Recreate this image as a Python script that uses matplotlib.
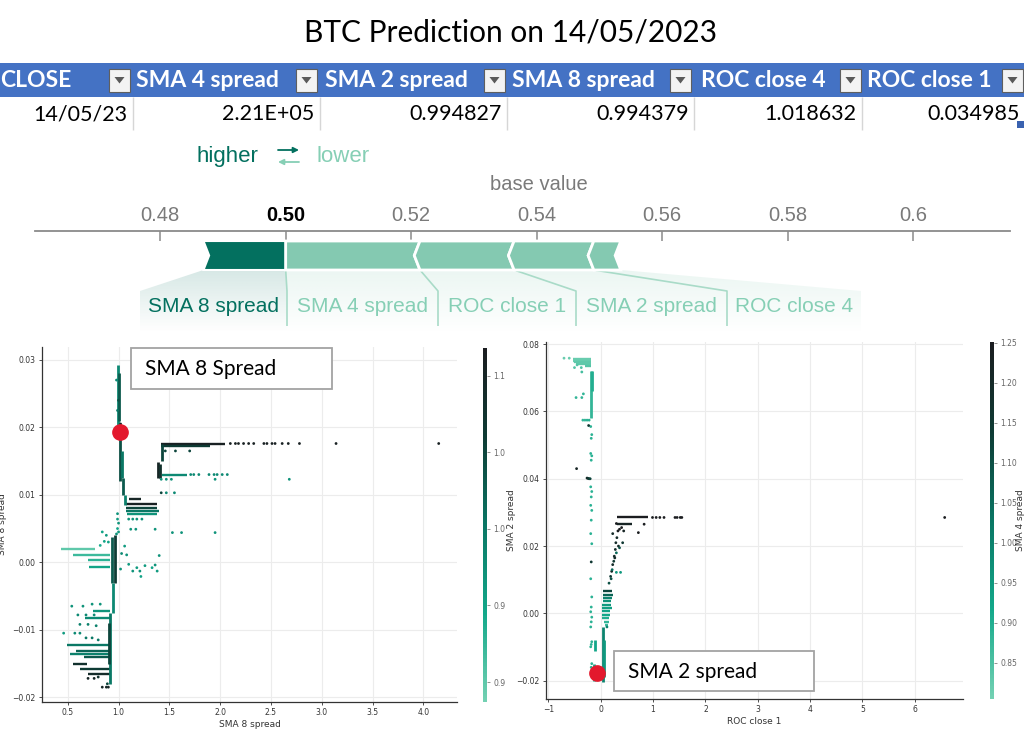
import numpy as np
import matplotlib
matplotlib.use("Agg")
import matplotlib.pyplot as plt
from matplotlib.colors import LinearSegmentedColormap, Normalize, to_rgb
from matplotlib.patches import Rectangle, Polygon
from matplotlib.cm import ScalarMappable
from matplotlib.transforms import Bbox, TransformedBbox

W, H = 1024, 729

# ---------------- data ----------------
title = "BTC Prediction on 14/05/2023"
table_cols = ["CLOSE", "SMA 4 spread", "SMA 2 spread", "SMA 8 spread", "ROC close 4", "ROC close 1"]
table_vals = ["14/05/23", "2.21E+05", "0.994827", "0.994379", "1.018632", "0.034985"]

force_output = 0.50
force_features = ["SMA 8 spread", "SMA 4 spread", "ROC close 1", "SMA 2 spread", "ROC close 4"]
force_effects = [0.0131, -0.0214, -0.0150, -0.0127, -0.0043]
force_ticks = [0.48, 0.50, 0.52, 0.54, 0.56, 0.58, 0.60]
force_ticklabels = ["0.48", "0.50", "0.52", "0.54", "0.56", "0.58", "0.6"]

# left dependence plot: SMA 8 spread (colour = SMA 2 spread)
sma8_hrun_y = [0.0176, 0.0172, 0.0130, 0.0094, 0.0086, 0.0081, 0.0076, 0.0071, 0.0019, 0.0011,
               0.0003, -0.0007, -0.0072, -0.0083, -0.0122, -0.0131, -0.0136, -0.0140, -0.0150,
               -0.0158, -0.0165]
sma8_hrun_x0 = [1.42, 1.42, 1.43, 1.10, 1.07, 1.07, 1.07, 1.08, 0.43, 0.55, 0.70, 0.71, 0.75, 0.67,
                0.49, 0.58, 0.52, 0.66, 0.55, 0.62, 0.70]
sma8_hrun_x1 = [2.05, 1.90, 1.67, 1.22, 1.38, 1.38, 1.40, 1.38, 0.77, 0.92, 0.92, 0.92, 0.92, 0.93,
                0.92, 0.92, 0.92, 0.92, 0.69, 0.92, 0.92]
sma8_hrun_c = [1.11, 1.06, 0.98, 1.10, 1.11, 1.05, 1.00, 0.97, 0.90, 0.92, 0.93, 0.95, 0.97, 0.98,
               1.00, 1.02, 0.99, 1.03, 1.08, 1.06, 1.09]

sma8_vrun_x = [0.995, 1.005, 1.015, 1.03, 1.045, 1.06, 0.94, 0.97, 0.95, 0.915, 0.905, 1.39, 1.41, 1.43]
sma8_vrun_y0 = [0.0200, 0.0210, 0.0120, 0.0125, 0.0100, 0.0085, -0.0031, -0.0031, -0.0075, -0.0180,
                -0.0150, 0.0125, 0.0125, 0.0150]
sma8_vrun_y1 = [0.0293, 0.0280, 0.0192, 0.0165, 0.0125, 0.0100, 0.0038, 0.0040, -0.0031, -0.0075,
                -0.0090, 0.0148, 0.0145, 0.0176]
sma8_vrun_c = [0.98, 1.03, 1.04, 1.00, 1.03, 0.99, 1.03, 1.06, 0.98, 1.00, 1.05, 1.10, 1.08, 1.05]

sma8_pt_x = [2.10, 2.15, 2.18, 2.23, 2.28, 2.33, 2.43, 2.46, 2.51, 2.54, 2.61, 2.67, 2.78, 3.14, 4.15,
             1.46, 1.56, 1.70,
             1.71, 1.74, 1.79, 1.89, 1.94, 1.97, 2.02, 2.07,
             1.42, 1.47, 1.52, 1.95, 2.68,
             1.42, 1.47, 1.55,
             1.10, 1.14, 1.18, 1.23,
             1.12, 1.17, 1.36,
             1.53, 1.62, 1.95,
             1.06, 1.08, 1.10, 1.14, 1.18, 1.21, 1.22, 1.26, 1.33, 1.36, 1.38, 1.40, 1.03, 1.02,
             0.99, 0.99, 1.00, 0.99, 1.00, 0.98,
             0.84, 0.88, 0.90, 0.82, 0.86,
             0.54, 0.65, 0.74, 0.82, 0.60, 0.68, 0.76, 0.62, 0.70, 0.78, 0.46, 0.57, 0.62, 0.68,
             0.74, 0.80,
             0.70, 0.76, 0.80, 0.89, 0.84, 0.88, 0.90,
             0.98, 1.00, 0.99, 1.02]
sma8_pt_y = [0.0176] * 15 + \
            [0.0165] * 3 + \
            [0.0130] * 8 + \
            [0.0123] * 5 + \
            [0.0103] * 3 + \
            [0.0064] * 4 + \
            [0.0049] * 3 + \
            [0.0044] * 3 + \
            [0.0024, 0.0011, -0.0003, -0.0013, -0.0008, -0.0013, -0.0021, -0.0005, -0.0008, -0.0004,
             -0.0013, 0.0010, 0.0013, -0.0010] + \
            [0.0072, 0.0064, 0.0058, 0.0050, 0.0045, 0.0042] + \
            [0.0045, 0.0040, 0.0030, 0.0025, 0.0031] + \
            [-0.0065, -0.0065, -0.0062, -0.0062, -0.0078, -0.0078, -0.0078, -0.0092, -0.0092,
             -0.0094, -0.0105, -0.0105, -0.0105, -0.0112, -0.0112, -0.0115] + \
            [-0.0172, -0.0172, -0.0170, -0.0180, -0.0185, -0.0185, -0.0185] + \
            [0.0270, 0.0240, 0.0225, 0.0205]
sma8_pt_c = [1.11] * 15 + [1.05] * 3 + [0.98] * 8 + [0.97] * 5 + [1.05, 0.98, 0.98] + \
            [0.97] * 4 + [0.97] * 3 + [0.97] * 3 + \
            [0.96, 0.97, 0.96, 0.97, 0.96, 0.97, 0.95, 0.96, 0.95, 0.97, 0.96, 0.97, 0.98, 0.97] + \
            [0.97, 0.96, 0.97, 0.95, 0.96, 0.97] + \
            [0.95, 0.96, 0.95, 0.94, 0.95] + \
            [0.97, 0.97, 0.97, 0.97, 0.98, 0.98, 0.98, 0.99, 0.99, 0.99, 0.96, 0.98, 0.98, 1.00,
             1.00, 1.00] + \
            [1.10, 1.10, 1.08, 1.05, 1.10, 1.10, 1.10] + \
            [0.98, 1.04, 1.00, 1.10]
sma8_now = (1.01, 0.0193)

# right dependence plot: ROC close 1 vs SMA 2 spread SHAP (colour = SMA 4 spread)
roc_hrun_y = [0.0756, 0.0751, 0.0746, 0.0741, 0.0736, 0.0285, 0.0265, 0.0066, 0.0056, 0.0046,
              0.0036, 0.0026, 0.0016, 0.0006, -0.0004, -0.0014, -0.0024, -0.0034, -0.0185,
              -0.0195, -0.0172]
roc_hrun_x0 = [-0.52, -0.52, -0.50, -0.48, -0.30, 0.31, 0.31, 0.04, 0.04, 0.04, 0.04, 0.03, 0.03,
               0.03, 0.03, 0.03, 0.06, 0.08, -0.18, -0.12, -0.17]
roc_hrun_x1 = [-0.19, -0.19, -0.19, -0.19, -0.19, 0.91, 0.59, 0.22, 0.24, 0.22, 0.20, 0.20, 0.22,
               0.18, 0.18, 0.15, 0.15, 0.14, 0.05, 0.05, -0.10]
roc_hrun_c = [0.82, 0.82, 0.83, 0.83, 0.84, 1.25, 1.22, 1.12, 1.06, 1.00, 0.97, 0.95, 0.94, 0.93,
              0.92, 0.90, 0.88, 0.87, 0.90, 0.92, 0.93]

roc_vrun_x = [-0.18, -0.17, 0.04, 0.06, -0.12, -0.10]
roc_vrun_y0 = [0.0580, 0.0660, -0.0205, -0.0190, -0.0200, -0.0110]
roc_vrun_y1 = [0.0720, 0.0720, -0.0040, -0.0080, -0.0150, -0.0080]
roc_vrun_c = [0.88, 0.90, 1.00, 0.95, 0.93, 0.92]

roc_pt_x = [-0.19, -0.17, -0.18, -0.19, -0.17, -0.18, -0.19, -0.17, -0.18, -0.19, -0.17, -0.18,
            -0.19, -0.17, -0.18, -0.19, -0.17, -0.18, -0.19, -0.17, -0.18, -0.19, -0.17, -0.18,
            -0.19, -0.17, -0.18,
            -0.70, -0.60, -0.50, -0.45, -0.37, -0.36, -0.47, -0.36, -0.33, -0.34, -0.30, -0.26,
            -0.22, -0.23,
            -0.46, -0.26, -0.24, -0.22, -0.20,
            0.12, 0.16, 0.19, 0.21, 0.23, 0.25, 0.26, 0.28, 0.29, 0.31, 0.33, 0.36, 0.40, 0.44,
            0.42, 0.34, 0.30, 0.36, 0.30, 0.38, 0.27, 0.72, 0.83, 0.30, 0.23, 0.20, 0.22,
            0.99, 1.06, 1.13, 1.21, 1.42, 1.46, 1.52, 1.55, 6.57]
roc_pt_y = [0.0555, 0.0531, 0.0520, 0.0475, 0.0468, 0.0455, 0.0376, 0.0362, 0.0346, 0.0321, 0.0306,
            0.0277, 0.0237, 0.0207, 0.0153, 0.0103, 0.0049, 0.0019, 0.0005, -0.0011, -0.0025,
            -0.0040, -0.0084, -0.0092, -0.0099, -0.0149, -0.0160,
            0.0758, 0.0758, 0.0730, 0.0738, 0.0730, 0.0717, 0.0641, 0.0641, 0.0652, 0.0574,
            0.0574, 0.0574, 0.0574, 0.0558,
            0.0430, 0.0402, 0.0401, 0.0400, 0.0400,
            -0.0040, 0.0090, 0.0110, 0.0125, 0.0145, 0.0155, 0.0170, 0.0190, 0.0210, 0.0225,
            0.0245, 0.0250, 0.0255, 0.0245, 0.0210, 0.0200, 0.0180, 0.0195, 0.0122, 0.0122,
            0.0165, 0.0240, 0.0265, 0.0267, 0.0237, 0.0103, 0.0130] + [0.0285] * 9
roc_pt_c = [0.89] * 14 + [1.15] + [0.89] * 12 + \
           [0.82, 0.82, 0.84, 0.84, 0.85, 0.86, 0.88, 0.88, 0.88, 0.88, 0.88, 0.89, 0.89, 1.15] + \
           [1.22, 1.20, 1.18, 1.15, 1.12] + \
           [1.00, 1.10, 1.15, 1.20, 1.20, 1.15, 1.20, 1.20, 1.20, 1.20, 1.25, 1.25, 1.25, 1.22,
            1.15, 1.20, 1.05, 1.10, 0.95, 0.95, 1.20, 1.25, 1.25, 1.25, 1.20, 1.10, 1.05] + \
           [1.25] * 9
roc_now = (-0.065, -0.0178)

# ---------------- styling ----------------
dark_green = "#03705f"
light_green = "#84c9b1"
light_text = "#86cfb5"
cmap = LinearSegmentedColormap.from_list(
    "shap_teal", ["#74d1b3", "#13a88a", "#0a7664", "#0e3b34", "#1b1d20"])


def px_box(x0, y0, x1, y1):
    return [x0 / W, 1 - y1 / H, (x1 - x0) / W, (y1 - y0) / H]


fig = plt.figure(figsize=(W / 100, H / 100), dpi=100)
fig.patch.set_facecolor("white")

bg = fig.add_axes([0, 0, 1, 1])
bg.set_xlim(0, W)
bg.set_ylim(H, 0)
bg.axis("off")

# title
bg.text(510, 32, title, ha="center", va="center", fontsize=21.5, family="Lato")

# excel-like table
col_text_x = [0, 136, 325, 512, 701, 867]
box_x = [109, 296, 484, 670, 840, 1002]
sep_x = [133, 320, 507, 694, 862]
val_right = [127, 314, 502, 689, 856, 1020]
bg.add_patch(Rectangle((0, 63), W, 34, facecolor="#4472c4", edgecolor="none"))
for name, tx, bx in zip(table_cols, col_text_x, box_x):
    bg.text(tx, 80.5, name, ha="left", va="center", fontsize=16.5, fontweight="bold",
            color="white", family="Lato")
    bg.add_patch(Rectangle((bx, 68.5), 21, 23, facecolor="#f3f3f3", edgecolor="#5f5f5f", lw=0.8))
    bg.add_patch(Polygon([(bx + 5.5, 77), (bx + 15.5, 77), (bx + 10.5, 83.5)],
                         facecolor="#5a5a5a", edgecolor="none"))
bg.vlines(sep_x, 97, 130, color="#d6d6d6", lw=1)
for v, rx in zip(table_vals, val_right):
    bg.text(rx, 114, v, ha="right", va="center", fontsize=15.5, family="Lato")
bg.add_patch(Rectangle((1017, 121), 7, 7, facecolor="#3a62b0", edgecolor="none"))

# ---------------- force plot ----------------
fa = fig.add_axes(px_box(35, 231, 1010, 335))
fa.patch.set_alpha(0)
xl0, xl1 = 0.46005, 0.61543
for s in ["left", "right", "bottom"]:
    fa.spines[s].set_visible(False)
fa.spines["top"].set_color("#8a8a8a")
fa.spines["top"].set_linewidth(1.3)
fa.xaxis.tick_top()
fa.set_xticks(force_ticks)
fa.set_xticklabels(force_ticklabels)
fa.tick_params(axis="x", direction="in", length=7, width=1.1, color="#8a8a8a",
               labelsize=14.5, labelcolor="#7a7a7a", pad=4)
fa.set_yticks([])
for i, lbl in enumerate(fa.get_xticklabels()):
    lbl.set_family("Liberation Sans")
    if force_ticks[i] == force_output:
        lbl.set_fontweight("bold")
        lbl.set_color("black")


def px2v(p):
    return xl0 + (p - 35) / 975 * (xl1 - xl0)


top, bot, mid = 241, 270, 255.5
tip = 0.0009
bounds = []
cur = force_output
for e in force_effects:
    if e > 0:
        a, b = cur - e, cur
        fa.add_patch(Polygon([(a, top), (b, top), (b, bot), (a, bot), (a + tip, mid)],
                             facecolor=dark_green, edgecolor="white", lw=1.5, zorder=3))
        bounds.append((a, b, dark_green))
        cur = a
cur = force_output
first = True
for e in force_effects:
    if e < 0:
        a, b = cur, cur - e
        if first:
            verts = [(a, top), (b, top), (b - tip, mid), (b, bot), (a, bot)]
        else:
            verts = [(a, top), (b, top), (b - tip, mid), (b, bot), (a, bot), (a - tip, mid)]
        fa.add_patch(Polygon(verts, facecolor=light_green, edgecolor="white", lw=2, zorder=3))
        bounds.append((a, b, light_green))
        cur = b
        first = False

label_edges = [px2v(p) for p in [140, 287, 438, 576, 727, 861]]
for i, (name, (a, b, col)) in enumerate(zip(force_features, bounds)):
    e0, e1 = label_edges[i], label_edges[i + 1]
    verts = [(a, bot), (b, bot), (e1, 291), (e1, 333), (e0, 333), (e0, 291)]
    grad = np.zeros((60, 1, 4))
    grad[..., :3] = to_rgb(col)
    grad[:, 0, 3] = np.linspace(0.16, 0.0, 60)
    im = fa.imshow(grad, extent=[min(a, e0), max(b, e1), 333, bot], aspect="auto",
                   origin="upper", zorder=1)
    clip = Polygon(verts, transform=fa.transData, facecolor="none", edgecolor="none")
    fa.add_patch(clip)
    im.set_clip_path(clip)
    fa.text((e0 + e1) / 2, 307, name, ha="center", va="center", fontsize=15,
            family="Liberation Sans", color=dark_green if col == dark_green else light_text,
            zorder=4)
    if i > 0:
        fa.plot([a, e0, e0], [bot, 291, 326], color="#a9dbc8", lw=1.2, zorder=2,
                solid_capstyle="butt")
fa.set_xlim(xl0, xl1)
fa.set_ylim(335, 231)

base_value = force_output - sum(force_effects)
fa.text(base_value, 185, "base value", ha="center", va="center", fontsize=14.5,
        color="#7a7a7a", family="Liberation Sans", clip_on=False)
bg.text(258, 156, "higher", ha="right", va="center", fontsize=16, color=dark_green,
        family="Liberation Sans")
bg.annotate("", xy=(299, 150), xytext=(278, 150),
            arrowprops=dict(arrowstyle="-|>", color=dark_green, lw=1.3, mutation_scale=8,
                            shrinkA=0, shrinkB=0))
bg.annotate("", xy=(278, 162), xytext=(299, 162),
            arrowprops=dict(arrowstyle="-|>", color=light_text, lw=1.3, mutation_scale=8,
                            shrinkA=0, shrinkB=0))
bg.text(316, 156, "lower", ha="left", va="center", fontsize=16, color=light_text,
        family="Liberation Sans")


# ---------------- dependence plots ----------------
def dep_axes(rect, xlim, ylim, xticks, yticks):
    ax = fig.add_axes(rect)
    ax.set_xlim(*xlim)
    ax.set_ylim(*ylim)
    ax.set_xticks(xticks)
    ax.set_yticks(yticks)
    ax.grid(color="#ececec", lw=0.8)
    ax.set_axisbelow(True)
    for s in ["top", "right"]:
        ax.spines[s].set_visible(False)
    for s in ["left", "bottom"]:
        ax.spines[s].set_color("#333333")
        ax.spines[s].set_linewidth(0.9)
    ax.tick_params(labelsize=5.5, colors="#333333", length=2.5, width=0.6, pad=2)
    return ax


def draw_points(ax, norm, hy, hx0, hx1, hc, vx, vy0, vy1, vc, px, py, pc):
    ax.hlines(hy, hx0, hx1, colors=cmap(norm(np.array(hc))), lw=1.7, zorder=2)
    ax.vlines(vx, vy0, vy1, colors=cmap(norm(np.array(vc))), lw=2.0, zorder=2)
    ax.scatter(px, py, c=pc, cmap=cmap, norm=norm, s=4, linewidths=0, zorder=3)


def side_bar(rect, norm, ticks):
    cax = fig.add_axes(rect)
    cb = fig.colorbar(ScalarMappable(norm=norm, cmap=cmap), cax=cax, ticks=ticks)
    cb.outline.set_visible(False)
    cb.ax.tick_params(labelsize=5.5, colors="#666666", length=2.5, width=0.5, pad=2)
    return cb


norm_l = Normalize(0.887, 1.118)
ax1 = dep_axes(px_box(42, 347, 457, 702), (0.247, 4.33), (-0.0207, 0.0319),
               [0.5, 1.0, 1.5, 2.0, 2.5, 3.0, 3.5, 4.0], [-0.02, -0.01, 0.0, 0.01, 0.02, 0.03])
draw_points(ax1, norm_l, sma8_hrun_y, sma8_hrun_x0, sma8_hrun_x1, sma8_hrun_c,
            sma8_vrun_x, sma8_vrun_y0, sma8_vrun_y1, sma8_vrun_c,
            sma8_pt_x, sma8_pt_y, sma8_pt_c)
ax1.plot(*sma8_now, "o", ms=11, color="#e3182d", zorder=6, clip_on=False)
ax1.set_xlabel("SMA 8 spread", fontsize=6.5, color="#333333", labelpad=2)
ax1.set_ylabel("SHAP value for\nSMA 8 spread", fontsize=6.5, color="#333333")
ax1.yaxis.set_label_coords(-0.085, 0.5)
cb1 = side_bar(px_box(483, 348, 487, 702), norm_l, [0.90, 0.95, 1.00, 1.05, 1.10])
# the left panel is cropped just after its colour bar labels
crop = TransformedBbox(Bbox([[0, 0], [505 / W, 1]]), fig.transFigure)
fig.canvas.draw()
for lbl in cb1.ax.get_yticklabels():
    lbl.set_clip_box(crop)
    lbl.set_clip_on(True)

norm_r = Normalize(0.805, 1.251)
ax2 = dep_axes(px_box(546, 342, 963, 699), (-1.044, 6.92), (-0.0254, 0.0806),
               [-1, 0, 1, 2, 3, 4, 5, 6], [-0.02, 0.0, 0.02, 0.04, 0.06, 0.08])
draw_points(ax2, norm_r, roc_hrun_y, roc_hrun_x0, roc_hrun_x1, roc_hrun_c,
            roc_vrun_x, roc_vrun_y0, roc_vrun_y1, roc_vrun_c,
            roc_pt_x, roc_pt_y, roc_pt_c)
ax2.plot(*roc_now, "o", ms=11, color="#e3182d", zorder=6, clip_on=False)
ax2.set_xlabel("ROC close 1", fontsize=6.5, color="#333333", labelpad=2)
ax2.set_ylabel("SMA 2 spread", fontsize=6.5, color="#333333")
ax2.yaxis.set_label_coords(-0.071, 0.5)
cb2 = side_bar(px_box(990, 342, 994, 699), norm_r,
               [0.85, 0.90, 0.95, 1.00, 1.05, 1.10, 1.15, 1.20, 1.25])
cb2.set_label("SMA 4 spread", fontsize=6.5, color="#333333")
cb2.ax.yaxis.set_label_coords(6.4, 0.5)

# ---------------- call-out boxes ----------------
fg = fig.add_axes([0, 0, 1, 1])
fg.set_xlim(0, W)
fg.set_ylim(H, 0)
fg.axis("off")
fg.patch.set_alpha(0)
fg.add_patch(Rectangle((131, 348), 201, 41, facecolor="white", edgecolor="#a3a3a3", lw=1.3))
fg.text(145, 369, "SMA 8 Spread", ha="left", va="center", fontsize=15, family="Lato")
fg.add_patch(Rectangle((614, 651), 200, 40, facecolor="white", edgecolor="#a3a3a3", lw=1.3))
fg.text(628, 672, "SMA 2 spread", ha="left", va="center", fontsize=15, family="Lato")

fig.savefig("out.png", dpi=100)
